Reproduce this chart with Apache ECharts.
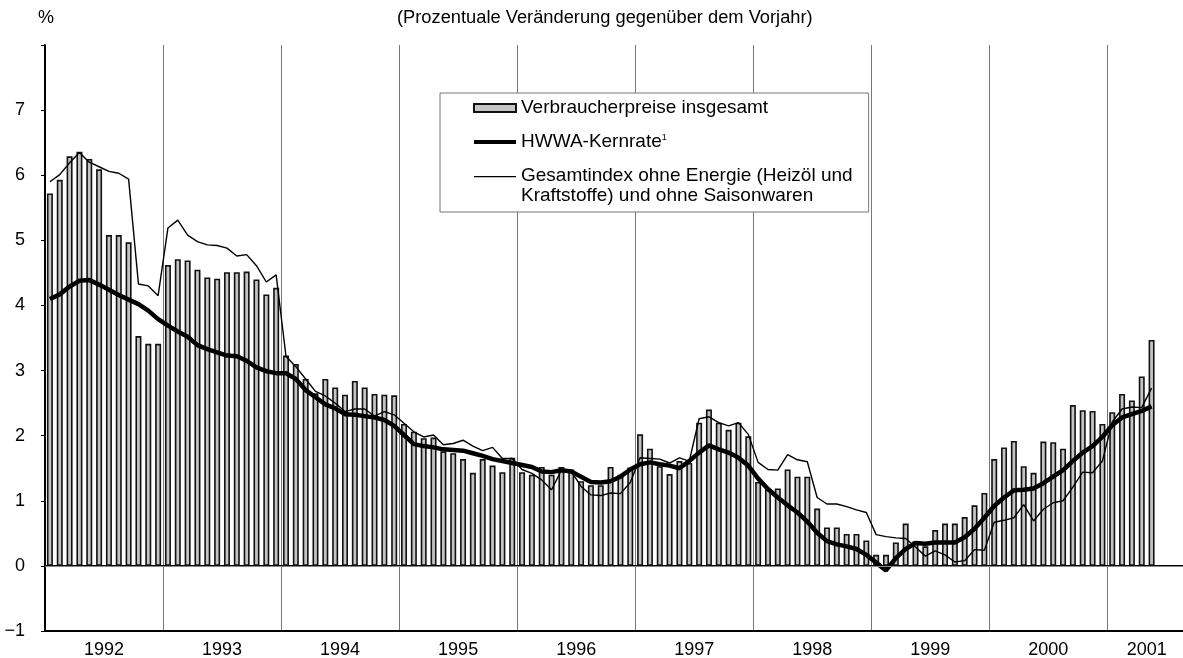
<!DOCTYPE html>
<html>
<head>
<meta charset="utf-8">
<title>Verbraucherpreise und Kernrate</title>
<script src="https://cdn.jsdelivr.net/npm/echarts@6/dist/echarts.min.js"></script>
<style>
html,body{margin:0;padding:0;background:#fff;}
#main{width:1183px;height:658px;}
</style>
</head>
<body>
<div id="main"></div>
<script>
// Jahre auf der x-Achse
var jahre = ['1992','1993','1994','1995','1996','1997','1998','1999','2000','2001'];
var startJahr = 1992;
var anzahlMonate = 116; // Achse laeuft bis Aug. 2001, Daten bis Mai 2001

// Verbraucherpreise insgesamt (Balken), Jan 1992 - Mai 2001
var verbraucherpreise = [
    5.72, 5.93, 6.29, 6.36, 6.25, 6.09, 5.08, 5.08, 4.97, 3.53, 3.41, 3.41,
    4.62, 4.71, 4.69, 4.55, 4.43, 4.41, 4.51, 4.51, 4.52, 4.40, 4.17, 4.27,
    3.23, 3.10, 2.87, 2.65, 2.87, 2.74, 2.63, 2.84, 2.74, 2.64, 2.63, 2.62,
    2.18, 2.06, 1.96, 1.97, 1.76, 1.73, 1.64, 1.43, 1.64, 1.54, 1.44, 1.66,
    1.44, 1.40, 1.52, 1.40, 1.52, 1.48, 1.30, 1.24, 1.24, 1.52, 1.40, 1.51,
    2.02, 1.80, 1.53, 1.41, 1.61, 1.58, 2.20, 2.40, 2.20, 2.09, 2.20, 1.99,
    1.29, 1.18, 1.19, 1.48, 1.37, 1.37, 0.88, 0.59, 0.59, 0.49, 0.49, 0.39,
    0.17, 0.17, 0.36, 0.65, 0.38, 0.30, 0.55, 0.65, 0.65, 0.75, 0.93, 1.12,
    1.64, 1.82, 1.92, 1.53, 1.43, 1.91, 1.90, 1.80, 2.47, 2.39, 2.38, 2.18,
    2.36, 2.64, 2.54, 2.91, 3.47
];

// HWWA-Kernrate (dicke Linie)
var kernrate = [
    4.10, 4.17, 4.29, 4.38, 4.39, 4.32, 4.24, 4.16, 4.09, 4.02, 3.92, 3.79,
    3.69, 3.60, 3.52, 3.39, 3.33, 3.28, 3.23, 3.22, 3.15, 3.05, 2.99, 2.96,
    2.96, 2.87, 2.70, 2.59, 2.48, 2.42, 2.33, 2.32, 2.30, 2.28, 2.24, 2.15,
    2.01, 1.87, 1.84, 1.82, 1.79, 1.78, 1.77, 1.73, 1.69, 1.64, 1.61, 1.58,
    1.55, 1.52, 1.45, 1.44, 1.47, 1.45, 1.37, 1.29, 1.28, 1.30, 1.37, 1.48,
    1.56, 1.59, 1.56, 1.54, 1.50, 1.61, 1.74, 1.85, 1.79, 1.74, 1.66, 1.54,
    1.34, 1.18, 1.05, 0.93, 0.82, 0.68, 0.51, 0.38, 0.33, 0.30, 0.26, 0.17,
    0.05, -0.07, 0.12, 0.26, 0.35, 0.34, 0.36, 0.36, 0.36, 0.44, 0.57, 0.74,
    0.92, 1.05, 1.16, 1.17, 1.19, 1.27, 1.37, 1.47, 1.61, 1.74, 1.84, 1.98,
    2.16, 2.28, 2.33, 2.38, 2.45
];

// Gesamtindex ohne Energie und ohne Saisonwaren (duenne Linie)
var ohneEnergie = [
    5.90, 6.01, 6.19, 6.35, 6.20, 6.13, 6.06, 6.03, 5.94, 4.33, 4.30, 4.15,
    5.19, 5.31, 5.08, 4.98, 4.93, 4.92, 4.88, 4.76, 4.78, 4.61, 4.36, 4.47,
    3.22, 3.06, 2.87, 2.68, 2.61, 2.50, 2.37, 2.41, 2.41, 2.30, 2.37, 2.32,
    2.19, 2.06, 1.98, 2.01, 1.86, 1.88, 1.93, 1.84, 1.77, 1.82, 1.65, 1.65,
    1.48, 1.42, 1.32, 1.17, 1.47, 1.45, 1.22, 1.09, 1.08, 1.12, 1.11, 1.28,
    1.66, 1.65, 1.64, 1.58, 1.66, 1.61, 2.26, 2.29, 2.20, 2.15, 2.20, 2.02,
    1.59, 1.48, 1.47, 1.71, 1.63, 1.60, 1.05, 0.95, 0.95, 0.91, 0.86, 0.82,
    0.48, 0.45, 0.43, 0.42, 0.29, 0.15, 0.23, 0.17, 0.06, 0.08, 0.25, 0.24,
    0.67, 0.70, 0.74, 0.94, 0.69, 0.87, 0.97, 1.00, 1.21, 1.44, 1.43, 1.61,
    2.21, 2.41, 2.44, 2.43, 2.73
];

var nameBalken = 'Verbraucherpreise insgesamt';
var nameKern = 'HWWA-Kernrate';
var nameOhne = 'Gesamtindex ohne Energie (Heizöl und\nKraftstoffe) und ohne Saisonwaren';
var schrift = '"Liberation Sans", Arial, Helvetica, sans-serif';

// Monatskategorien
var monate = [];
for (var i = 0; i < anzahlMonate; i++) {
    monate.push((startJahr + Math.floor(i / 12)) + '-' + (i % 12 + 1));
}

var myChart = echarts.init(document.getElementById('main'), null, {renderer: 'canvas'});

var option = {
    animation: false,
    backgroundColor: '#fff',
    textStyle: {fontFamily: schrift, color: '#000'},
    title: [
        {text: '%', left: 38, top: 9, padding: 0,
         textStyle: {fontFamily: schrift, fontSize: 18, fontWeight: 'normal', color: '#000'}},
        {text: '(Prozentuale Veränderung gegenüber dem Vorjahr)', left: 397, top: 9, padding: 0,
         textStyle: {fontFamily: schrift, fontSize: 18.3, fontWeight: 'normal', color: '#000'}}
    ],
    // Achse ragt etwas ueber den rechten Rand hinaus (wie im Original abgeschnitten)
    grid: {left: 45, width: 1141, top: 45, bottom: 27, containLabel: false, outerBoundsMode: 'none'},
    legend: {
        orient: 'vertical',
        left: 440,
        top: 93,
        padding: [5, 16, 6, 33],
        itemGap: 14,
        itemWidth: 42,
        itemHeight: 20,
        backgroundColor: '#fff',
        borderColor: '#777',
        borderWidth: 1,
        borderRadius: 0,
        selectedMode: false,
        z: 10,
        textStyle: {
            fontFamily: schrift, fontSize: 19, color: '#000', lineHeight: 20,
            rich: {sup: {fontFamily: schrift, fontSize: 9, color: '#000', padding: [0, 0, 9, 0]}}
        },
        formatter: function (name) {
            return name === nameKern ? name + '{sup|1}' : name;
        },
        data: [
            {name: nameBalken, icon: 'path://M0,0H42V8H0Z'},
            {name: nameKern, icon: 'path://M0,0H42V4H0Z', itemStyle: {color: '#000', borderWidth: 0}},
            {name: nameOhne, icon: 'path://M0,0H42V1.3H0Z M0,19.9H0.1V20H0Z', itemStyle: {color: '#000', borderWidth: 0}}
        ]
    },
    xAxis: [
        {
            // Monatsachse fuer die Daten, oben als Rahmenlinie
            type: 'category',
            data: monate,
            position: 'top',
            boundaryGap: true,
            axisLine: {show: true, lineStyle: {color: '#000', width: 2}},
            axisTick: {show: false},
            axisLabel: {show: false},
            splitLine: {
                show: true,
                interval: function (index) { return index % 12 === 0; },
                lineStyle: {color: '#777', width: 1}
            }
        },
        {
            // Jahresbeschriftung unten
            type: 'value',
            position: 'bottom',
            min: 0,
            max: anzahlMonate,
            interval: 2,
            axisLine: {show: true, lineStyle: {color: '#000', width: 2}},
            axisTick: {show: false},
            splitLine: {show: false},
            axisLabel: {
                show: true,
                margin: 10,
                fontFamily: schrift,
                fontSize: 18,
                color: '#000',
                formatter: function (v) {
                    if (v < 108 && v % 12 === 6) return jahre[(v - 6) / 12];
                    if (v === 112) return jahre[9];
                    return '';
                }
            }
        }
    ],
    yAxis: {
        type: 'value',
        min: -1,
        max: 8,
        interval: 1,
        axisLine: {show: true, lineStyle: {color: '#000', width: 2}},
        axisTick: {show: true, length: 4, lineStyle: {color: '#000', width: 1}},
        splitLine: {show: false},
        axisLabel: {
            margin: 20,
            fontFamily: schrift,
            fontSize: 18,
            color: '#000',
            formatter: function (v) {
                if (v === 8) return '';
                return v < 0 ? '\u2212' + Math.abs(v) : String(v);
            }
        }
    },
    series: [
        {
            name: nameBalken,
            type: 'bar',
            xAxisIndex: 0,
            barWidth: 6,
            itemStyle: {color: '#c4c4c4', borderColor: '#111', borderWidth: 1.6},
            data: verbraucherpreise,
            z: 2,
            markLine: {
                silent: true,
                symbol: 'none',
                label: {show: false},
                lineStyle: {color: '#888', width: 1, type: 'solid'},
                data: [{yAxis: 0}]
            }
        },
        {
            name: nameKern,
            type: 'line',
            xAxisIndex: 0,
            symbol: 'none',
            color: '#000',
            lineStyle: {color: '#000', width: 4.5},
            data: kernrate,
            z: 4
        },
        {
            name: nameOhne,
            type: 'line',
            xAxisIndex: 0,
            symbol: 'none',
            color: '#000',
            lineStyle: {color: '#000', width: 1.4},
            data: ohneEnergie,
            z: 3
        }
    ]
};

myChart.setOption(option);
</script>
</body>
</html>
